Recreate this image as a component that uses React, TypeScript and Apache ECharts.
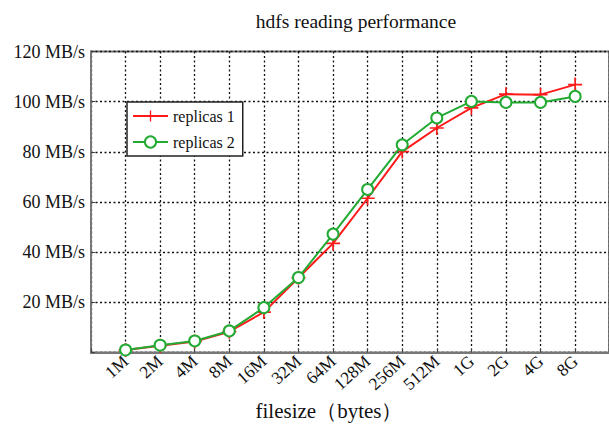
import React, { useEffect, useRef } from "react";
import * as echarts from "echarts";

const categories = ["1M", "2M", "4M", "8M", "16M", "32M", "64M", "128M", "256M", "512M", "1G", "2G", "4G", "8G"];
const replicas1 = [1, 2.7, 4.4, 8.3, 16.1, 29.8, 43.5, 61.5, 80.1, 89.5, 97.5, 103, 102.8, 106.8];
const replicas2 = [1, 2.9, 4.6, 8.6, 17.9, 29.9, 47.2, 65, 82.8, 93.5, 100.1, 99.7, 99.7, 102.1];
const yTicks = [0, 20, 40, 60, 80, 100, 120];

const FONT = "'Liberation Serif', 'Times New Roman', serif";
const PLUS =
  "path://M-0.12,-1L0.12,-1L0.12,-0.12L1,-0.12L1,0.12L0.12,0.12L0.12,1L-0.12,1L-0.12,0.12L-1,0.12L-1,-0.12L-0.12,-0.12Z";

export default function App() {
  const ref = useRef<HTMLDivElement>(null);
  useEffect(() => {
    document.body.style.margin = "0";
    const chart = echarts.init(ref.current!, undefined, { renderer: "svg" });
    const gridLine = { show: true, lineStyle: { color: "#111", type: [2, 2.5] as any, width: 1.3 } };
    chart.setOption({
      animation: false,
      backgroundColor: "#fff",
      title: {
        text: "hdfs reading performance",
        left: 351,
        textAlign: "center",
        top: 6,
        textStyle: { fontFamily: FONT, fontSize: 19.5, fontWeight: "normal", color: "#111" },
      },
      legend: {
        left: 127,
        top: 102,
        orient: "vertical",
        backgroundColor: "#fff",
        borderColor: "#222",
        borderWidth: 1.5,
        borderRadius: 0,
        padding: [6, 8, 6, 5],
        itemWidth: 35,
        itemHeight: 14,
        itemGap: 10,
        textStyle: { fontFamily: FONT, fontSize: 16, color: "#111" },
        data: ["replicas 1", "replicas 2"],
      },
      grid: {
        left: 91,
        right: 0,
        top: 51.5,
        bottom: 424 - 352.5,
        outerBoundsMode: "none",
        containLabel: false,
        show: true,
        borderColor: "#777",
        borderWidth: 2,
      },
      xAxis: {
        type: "value",
        min: -1,
        max: 13.98,
        interval: 1,
        axisLine: { show: true, onZero: false, lineStyle: { color: "#777", width: 2 } },
        axisTick: { show: true, inside: true, length: 4, lineStyle: { color: "#444" } },
        axisLabel: {
          rotate: 42,
          margin: 6,
          fontFamily: FONT,
          fontSize: 17.5,
          color: "#111",
          formatter: (v: number) => categories[Math.round(v)] ?? "",
        },
        splitLine: gridLine,
        name: "filesize（bytes）",
        nameLocation: "middle",
        nameGap: 48,
        nameTextStyle: { fontFamily: FONT, fontSize: 21, color: "#111", padding: [0, 42, 0, 0] },
      },
      yAxis: {
        type: "value",
        min: yTicks[0],
        max: yTicks[yTicks.length - 1],
        interval: 20,
        axisLine: { show: true, onZero: false, lineStyle: { color: "#777", width: 2 } },
        axisTick: { show: true, inside: true, length: 4, lineStyle: { color: "#444" } },
        axisLabel: {
          margin: 6,
          fontFamily: FONT,
          fontSize: 18,
          color: "#111",
          formatter: (v: number) => (v === 0 ? "" : `${v} MB/s`),
        },
        splitLine: gridLine,
      },
      series: [
        {
          name: "replicas 1",
          type: "line",
          data: replicas1.map((v, i) => [i, v]),
          symbol: PLUS,
          symbolSize: 14,
          itemStyle: { color: "#ff1a1a" },
          lineStyle: { color: "#ff1a1a", width: 2 },
          z: 2,
        },
        {
          name: "replicas 2",
          type: "line",
          data: replicas2.map((v, i) => [i, v]),
          symbol: "emptyCircle",
          symbolSize: 11,
          itemStyle: { color: "#22aa33", borderWidth: 1.5 },
          lineStyle: { color: "#22aa33", width: 2 },
          z: 3,
        },
      ],
    });
    return () => chart.dispose();
  }, []);
  return <div ref={ref} style={{ width: 609, height: 424 }} />;
}
